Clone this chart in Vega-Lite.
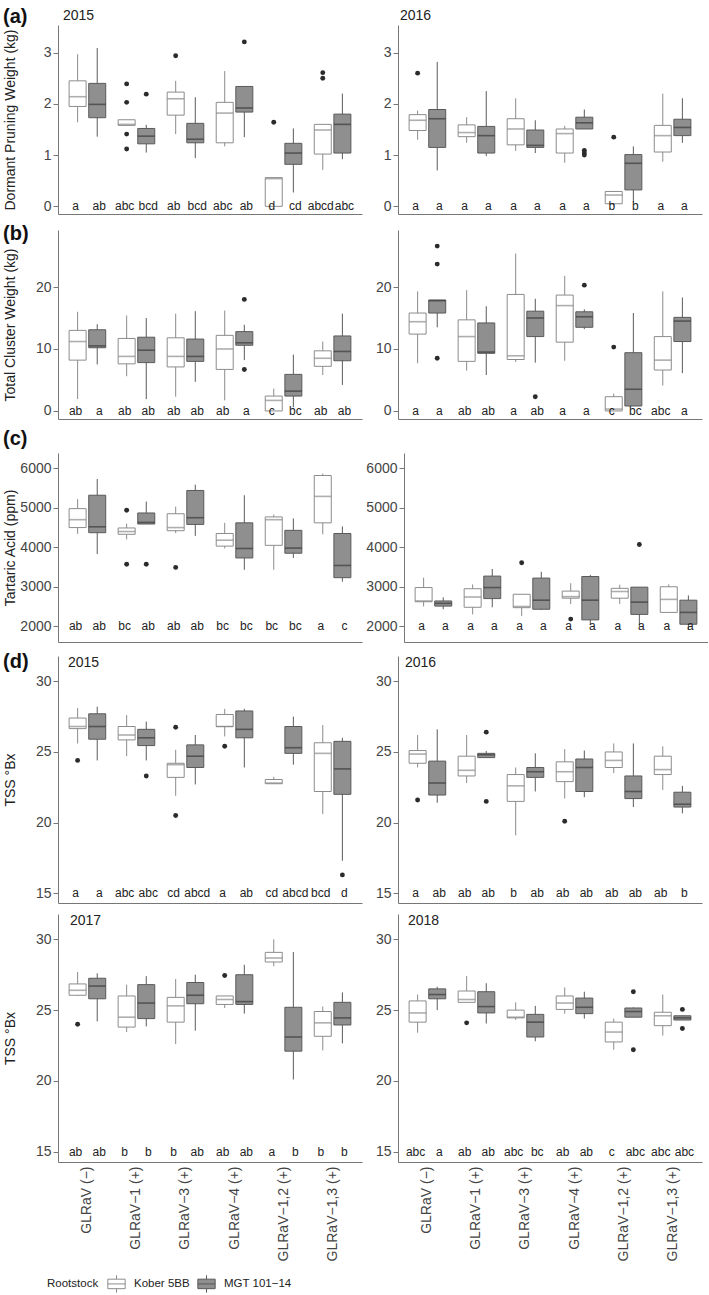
{
"$schema": "https://vega.github.io/schema/vega-lite/v6.json",
"padding": {"left": 3, "top": 7, "right": 0, "bottom": 0},
"background": "white",
"datasets": {
"box": [
{"p":"a15","g":"GLRaV (−)","r":"Kober 5BB","lo":1.64,"q1":1.95,"md":2.14,"q3":2.45,"hi":2.97,"l":"a"},
{"p":"a15","g":"GLRaV (−)","r":"MGT 101−14","lo":1.36,"q1":1.73,"md":1.99,"q3":2.40,"hi":3.09,"l":"ab"},
{"p":"a15","g":"GLRaV−1 (+)","r":"Kober 5BB","lo":1.58,"q1":1.58,"md":1.60,"q3":1.69,"hi":1.69,"l":"abc"},
{"p":"a15","g":"GLRaV−1 (+)","r":"MGT 101−14","lo":1.05,"q1":1.22,"md":1.37,"q3":1.52,"hi":1.59,"l":"bcd"},
{"p":"a15","g":"GLRaV−3 (+)","r":"Kober 5BB","lo":1.41,"q1":1.78,"md":2.10,"q3":2.23,"hi":2.45,"l":"ab"},
{"p":"a15","g":"GLRaV−3 (+)","r":"MGT 101−14","lo":0.94,"q1":1.24,"md":1.31,"q3":1.62,"hi":2.13,"l":"bcd"},
{"p":"a15","g":"GLRaV−4 (+)","r":"Kober 5BB","lo":1.17,"q1":1.24,"md":1.82,"q3":2.03,"hi":2.64,"l":"abc"},
{"p":"a15","g":"GLRaV−4 (+)","r":"MGT 101−14","lo":1.35,"q1":1.84,"md":1.92,"q3":2.34,"hi":2.34,"l":"ab"},
{"p":"a15","g":"GLRaV−1,2 (+)","r":"Kober 5BB","lo":0,"q1":0,"md":0.54,"q3":0.56,"hi":0.56,"l":"d"},
{"p":"a15","g":"GLRaV−1,2 (+)","r":"MGT 101−14","lo":0.27,"q1":0.82,"md":1.04,"q3":1.23,"hi":1.52,"l":"cd"},
{"p":"a15","g":"GLRaV−1,3 (+)","r":"Kober 5BB","lo":0.71,"q1":1.02,"md":1.49,"q3":1.60,"hi":1.60,"l":"abcd"},
{"p":"a15","g":"GLRaV−1,3 (+)","r":"MGT 101−14","lo":0.92,"q1":1.04,"md":1.60,"q3":1.80,"hi":2.20,"l":"abc"},
{"p":"a16","g":"GLRaV (−)","r":"Kober 5BB","lo":1.30,"q1":1.48,"md":1.68,"q3":1.79,"hi":1.87,"l":"a"},
{"p":"a16","g":"GLRaV (−)","r":"MGT 101−14","lo":0.70,"q1":1.15,"md":1.71,"q3":1.89,"hi":2.82,"l":"a"},
{"p":"a16","g":"GLRaV−1 (+)","r":"Kober 5BB","lo":1.24,"q1":1.36,"md":1.44,"q3":1.59,"hi":1.74,"l":"a"},
{"p":"a16","g":"GLRaV−1 (+)","r":"MGT 101−14","lo":0.98,"q1":1.04,"md":1.38,"q3":1.56,"hi":2.25,"l":"a"},
{"p":"a16","g":"GLRaV−3 (+)","r":"Kober 5BB","lo":1.08,"q1":1.20,"md":1.51,"q3":1.71,"hi":2.11,"l":"a"},
{"p":"a16","g":"GLRaV−3 (+)","r":"MGT 101−14","lo":1.04,"q1":1.15,"md":1.19,"q3":1.49,"hi":1.68,"l":"a"},
{"p":"a16","g":"GLRaV−4 (+)","r":"Kober 5BB","lo":0.85,"q1":1.04,"md":1.42,"q3":1.51,"hi":1.57,"l":"a"},
{"p":"a16","g":"GLRaV−4 (+)","r":"MGT 101−14","lo":1.51,"q1":1.51,"md":1.63,"q3":1.74,"hi":1.89,"l":"a"},
{"p":"a16","g":"GLRaV−1,2 (+)","r":"Kober 5BB","lo":0,"q1":0.05,"md":0.22,"q3":0.29,"hi":0.29,"l":"b"},
{"p":"a16","g":"GLRaV−1,2 (+)","r":"MGT 101−14","lo":0.09,"q1":0.32,"md":0.84,"q3":1.01,"hi":1.17,"l":"b"},
{"p":"a16","g":"GLRaV−1,3 (+)","r":"Kober 5BB","lo":0.87,"q1":1.06,"md":1.38,"q3":1.58,"hi":2.20,"l":"a"},
{"p":"a16","g":"GLRaV−1,3 (+)","r":"MGT 101−14","lo":1.24,"q1":1.38,"md":1.54,"q3":1.70,"hi":2.11,"l":"a"},
{"p":"b15","g":"GLRaV (−)","r":"Kober 5BB","lo":1.9,"q1":8.2,"md":11.2,"q3":13.0,"hi":16.0,"l":"ab"},
{"p":"b15","g":"GLRaV (−)","r":"MGT 101−14","lo":7.5,"q1":10.2,"md":10.5,"q3":13.1,"hi":14.0,"l":"a"},
{"p":"b15","g":"GLRaV−1 (+)","r":"Kober 5BB","lo":5.6,"q1":7.6,"md":8.8,"q3":11.7,"hi":15.4,"l":"ab"},
{"p":"b15","g":"GLRaV−1 (+)","r":"MGT 101−14","lo":1.9,"q1":7.8,"md":9.8,"q3":11.9,"hi":15.0,"l":"ab"},
{"p":"b15","g":"GLRaV−3 (+)","r":"Kober 5BB","lo":2.3,"q1":7.1,"md":8.8,"q3":11.8,"hi":15.7,"l":"ab"},
{"p":"b15","g":"GLRaV−3 (+)","r":"MGT 101−14","lo":4.7,"q1":8.0,"md":8.8,"q3":11.6,"hi":16.1,"l":"ab"},
{"p":"b15","g":"GLRaV−4 (+)","r":"Kober 5BB","lo":1.7,"q1":6.7,"md":10.0,"q3":12.2,"hi":16.2,"l":"ab"},
{"p":"b15","g":"GLRaV−4 (+)","r":"MGT 101−14","lo":8.2,"q1":10.6,"md":11.0,"q3":12.8,"hi":13.9,"l":"a"},
{"p":"b15","g":"GLRaV−1,2 (+)","r":"Kober 5BB","lo":0,"q1":0,"md":1.7,"q3":2.4,"hi":3.6,"l":"c"},
{"p":"b15","g":"GLRaV−1,2 (+)","r":"MGT 101−14","lo":0.6,"q1":2.4,"md":3.2,"q3":5.9,"hi":9.1,"l":"bc"},
{"p":"b15","g":"GLRaV−1,3 (+)","r":"Kober 5BB","lo":5.8,"q1":7.2,"md":8.5,"q3":9.7,"hi":11.2,"l":"ab"},
{"p":"b15","g":"GLRaV−1,3 (+)","r":"MGT 101−14","lo":4.2,"q1":8.1,"md":9.6,"q3":12.1,"hi":15.7,"l":"ab"},
{"p":"b16","g":"GLRaV (−)","r":"Kober 5BB","lo":7.7,"q1":12.4,"md":14.4,"q3":15.8,"hi":19.3,"l":"a"},
{"p":"b16","g":"GLRaV (−)","r":"MGT 101−14","lo":13.5,"q1":15.8,"md":17.8,"q3":17.9,"hi":17.9,"l":"a"},
{"p":"b16","g":"GLRaV−1 (+)","r":"Kober 5BB","lo":6.5,"q1":8.0,"md":12.0,"q3":14.7,"hi":19.5,"l":"ab"},
{"p":"b16","g":"GLRaV−1 (+)","r":"MGT 101−14","lo":5.8,"q1":9.3,"md":9.5,"q3":14.2,"hi":16.9,"l":"ab"},
{"p":"b16","g":"GLRaV−3 (+)","r":"Kober 5BB","lo":7.9,"q1":8.3,"md":8.9,"q3":18.8,"hi":25.4,"l":"a"},
{"p":"b16","g":"GLRaV−3 (+)","r":"MGT 101−14","lo":7.8,"q1":12.0,"md":15.0,"q3":16.1,"hi":18.1,"l":"ab"},
{"p":"b16","g":"GLRaV−4 (+)","r":"Kober 5BB","lo":8.1,"q1":11.1,"md":17.0,"q3":18.7,"hi":21.8,"l":"a"},
{"p":"b16","g":"GLRaV−4 (+)","r":"MGT 101−14","lo":13.2,"q1":13.5,"md":15.2,"q3":16.0,"hi":16.4,"l":"a"},
{"p":"b16","g":"GLRaV−1,2 (+)","r":"Kober 5BB","lo":0,"q1":0,"md":0.3,"q3":2.3,"hi":2.8,"l":"c"},
{"p":"b16","g":"GLRaV−1,2 (+)","r":"MGT 101−14","lo":0.8,"q1":0.8,"md":3.5,"q3":9.4,"hi":15.8,"l":"bc"},
{"p":"b16","g":"GLRaV−1,3 (+)","r":"Kober 5BB","lo":4.1,"q1":6.6,"md":8.2,"q3":12.0,"hi":19.3,"l":"abc"},
{"p":"b16","g":"GLRaV−1,3 (+)","r":"MGT 101−14","lo":6.1,"q1":11.2,"md":14.5,"q3":15.1,"hi":18.3,"l":"a"},
{"p":"c15","g":"GLRaV (−)","r":"Kober 5BB","lo":4340,"q1":4500,"md":4700,"q3":4980,"hi":5220,"l":"ab"},
{"p":"c15","g":"GLRaV (−)","r":"MGT 101−14","lo":3830,"q1":4370,"md":4520,"q3":5320,"hi":5730,"l":"ab"},
{"p":"c15","g":"GLRaV−1 (+)","r":"Kober 5BB","lo":4200,"q1":4330,"md":4400,"q3":4490,"hi":4600,"l":"bc"},
{"p":"c15","g":"GLRaV−1 (+)","r":"MGT 101−14","lo":4590,"q1":4590,"md":4630,"q3":4870,"hi":5160,"l":"ab"},
{"p":"c15","g":"GLRaV−3 (+)","r":"Kober 5BB","lo":4360,"q1":4420,"md":4500,"q3":4850,"hi":5030,"l":"ab"},
{"p":"c15","g":"GLRaV−3 (+)","r":"MGT 101−14","lo":4290,"q1":4580,"md":4750,"q3":5440,"hi":5590,"l":"ab"},
{"p":"c15","g":"GLRaV−4 (+)","r":"Kober 5BB","lo":3970,"q1":4030,"md":4180,"q3":4350,"hi":4620,"l":"bc"},
{"p":"c15","g":"GLRaV−4 (+)","r":"MGT 101−14","lo":3430,"q1":3730,"md":3970,"q3":4620,"hi":5320,"l":"bc"},
{"p":"c15","g":"GLRaV−1,2 (+)","r":"Kober 5BB","lo":3430,"q1":4050,"md":4700,"q3":4770,"hi":4830,"l":"bc"},
{"p":"c15","g":"GLRaV−1,2 (+)","r":"MGT 101−14","lo":3730,"q1":3850,"md":3980,"q3":4430,"hi":4730,"l":"bc"},
{"p":"c15","g":"GLRaV−1,3 (+)","r":"Kober 5BB","lo":4330,"q1":4620,"md":5290,"q3":5820,"hi":5870,"l":"a"},
{"p":"c15","g":"GLRaV−1,3 (+)","r":"MGT 101−14","lo":3130,"q1":3230,"md":3540,"q3":4350,"hi":4530,"l":"c"},
{"p":"c16","g":"GLRaV (−)","r":"Kober 5BB","lo":2500,"q1":2620,"md":2640,"q3":2980,"hi":3230,"l":"a"},
{"p":"c16","g":"GLRaV (−)","r":"MGT 101−14","lo":2430,"q1":2510,"md":2580,"q3":2640,"hi":2730,"l":"a"},
{"p":"c16","g":"GLRaV−1 (+)","r":"Kober 5BB","lo":2300,"q1":2480,"md":2740,"q3":2950,"hi":3060,"l":"a"},
{"p":"c16","g":"GLRaV−1 (+)","r":"MGT 101−14","lo":2480,"q1":2700,"md":2980,"q3":3270,"hi":3450,"l":"a"},
{"p":"c16","g":"GLRaV−3 (+)","r":"Kober 5BB","lo":2260,"q1":2470,"md":2500,"q3":2810,"hi":2810,"l":"a"},
{"p":"c16","g":"GLRaV−3 (+)","r":"MGT 101−14","lo":2410,"q1":2430,"md":2660,"q3":3220,"hi":3380,"l":"a"},
{"p":"c16","g":"GLRaV−4 (+)","r":"Kober 5BB","lo":2560,"q1":2710,"md":2750,"q3":2890,"hi":3090,"l":"a"},
{"p":"c16","g":"GLRaV−4 (+)","r":"MGT 101−14","lo":2030,"q1":2160,"md":2660,"q3":3260,"hi":3300,"l":"a"},
{"p":"c16","g":"GLRaV−1,2 (+)","r":"Kober 5BB","lo":2560,"q1":2710,"md":2880,"q3":2960,"hi":3050,"l":"a"},
{"p":"c16","g":"GLRaV−1,2 (+)","r":"MGT 101−14","lo":1990,"q1":2300,"md":2610,"q3":2990,"hi":2990,"l":"a"},
{"p":"c16","g":"GLRaV−1,3 (+)","r":"Kober 5BB","lo":2350,"q1":2350,"md":2680,"q3":3000,"hi":3060,"l":"a"},
{"p":"c16","g":"GLRaV−1,3 (+)","r":"MGT 101−14","lo":1910,"q1":2050,"md":2350,"q3":2660,"hi":2780,"l":"a"},
{"p":"d15","g":"GLRaV (−)","r":"Kober 5BB","lo":25.6,"q1":26.65,"md":26.8,"q3":27.4,"hi":28.1,"l":"a"},
{"p":"d15","g":"GLRaV (−)","r":"MGT 101−14","lo":24.4,"q1":25.9,"md":26.8,"q3":27.7,"hi":28.2,"l":"a"},
{"p":"d15","g":"GLRaV−1 (+)","r":"Kober 5BB","lo":24.7,"q1":25.85,"md":26.2,"q3":26.8,"hi":27.6,"l":"abc"},
{"p":"d15","g":"GLRaV−1 (+)","r":"MGT 101−14","lo":24.4,"q1":25.45,"md":26.0,"q3":26.6,"hi":27.15,"l":"abc"},
{"p":"d15","g":"GLRaV−3 (+)","r":"Kober 5BB","lo":21.9,"q1":23.2,"md":24.1,"q3":24.2,"hi":25.15,"l":"cd"},
{"p":"d15","g":"GLRaV−3 (+)","r":"MGT 101−14","lo":22.7,"q1":23.9,"md":24.7,"q3":25.5,"hi":26.2,"l":"abcd"},
{"p":"d15","g":"GLRaV−4 (+)","r":"Kober 5BB","lo":26.1,"q1":26.8,"md":26.8,"q3":27.65,"hi":28.05,"l":"a"},
{"p":"d15","g":"GLRaV−4 (+)","r":"MGT 101−14","lo":23.9,"q1":26.0,"md":26.6,"q3":27.9,"hi":28.05,"l":"ab"},
{"p":"d15","g":"GLRaV−1,2 (+)","r":"Kober 5BB","lo":22.75,"q1":22.75,"md":22.8,"q3":23.05,"hi":23.25,"l":"cd"},
{"p":"d15","g":"GLRaV−1,2 (+)","r":"MGT 101−14","lo":24.1,"q1":24.9,"md":25.3,"q3":26.8,"hi":27.5,"l":"abcd"},
{"p":"d15","g":"GLRaV−1,3 (+)","r":"Kober 5BB","lo":20.6,"q1":22.2,"md":24.9,"q3":25.65,"hi":26.9,"l":"bcd"},
{"p":"d15","g":"GLRaV−1,3 (+)","r":"MGT 101−14","lo":17.3,"q1":22.0,"md":23.8,"q3":25.75,"hi":26.0,"l":"d"},
{"p":"d16","g":"GLRaV (−)","r":"Kober 5BB","lo":23.9,"q1":24.2,"md":24.85,"q3":25.1,"hi":26.2,"l":"a"},
{"p":"d16","g":"GLRaV (−)","r":"MGT 101−14","lo":21.4,"q1":21.95,"md":22.8,"q3":24.35,"hi":26.6,"l":"ab"},
{"p":"d16","g":"GLRaV−1 (+)","r":"Kober 5BB","lo":22.8,"q1":23.3,"md":23.7,"q3":24.7,"hi":26.2,"l":"ab"},
{"p":"d16","g":"GLRaV−1 (+)","r":"MGT 101−14","lo":24.6,"q1":24.6,"md":24.8,"q3":24.9,"hi":25.07,"l":"ab"},
{"p":"d16","g":"GLRaV−3 (+)","r":"Kober 5BB","lo":19.1,"q1":21.5,"md":22.6,"q3":23.4,"hi":23.9,"l":"b"},
{"p":"d16","g":"GLRaV−3 (+)","r":"MGT 101−14","lo":22.2,"q1":23.2,"md":23.6,"q3":23.9,"hi":24.9,"l":"ab"},
{"p":"d16","g":"GLRaV−4 (+)","r":"Kober 5BB","lo":21.7,"q1":22.9,"md":23.6,"q3":24.3,"hi":25.2,"l":"ab"},
{"p":"d16","g":"GLRaV−4 (+)","r":"MGT 101−14","lo":21.8,"q1":22.2,"md":23.9,"q3":24.5,"hi":25.1,"l":"ab"},
{"p":"d16","g":"GLRaV−1,2 (+)","r":"Kober 5BB","lo":23.5,"q1":23.9,"md":24.4,"q3":25.0,"hi":25.6,"l":"ab"},
{"p":"d16","g":"GLRaV−1,2 (+)","r":"MGT 101−14","lo":21.1,"q1":21.7,"md":22.2,"q3":23.3,"hi":25.6,"l":"ab"},
{"p":"d16","g":"GLRaV−1,3 (+)","r":"Kober 5BB","lo":22.3,"q1":23.4,"md":23.75,"q3":24.7,"hi":25.4,"l":"ab"},
{"p":"d16","g":"GLRaV−1,3 (+)","r":"MGT 101−14","lo":20.65,"q1":21.1,"md":21.3,"q3":22.15,"hi":22.6,"l":"b"},
{"p":"d17","g":"GLRaV (−)","r":"Kober 5BB","lo":26.0,"q1":26.05,"md":26.4,"q3":26.85,"hi":27.7,"l":"ab"},
{"p":"d17","g":"GLRaV (−)","r":"MGT 101−14","lo":24.2,"q1":25.8,"md":26.7,"q3":27.25,"hi":27.6,"l":"ab"},
{"p":"d17","g":"GLRaV−1 (+)","r":"Kober 5BB","lo":23.45,"q1":23.8,"md":24.5,"q3":26.0,"hi":26.8,"l":"b"},
{"p":"d17","g":"GLRaV−1 (+)","r":"MGT 101−14","lo":23.85,"q1":24.4,"md":25.5,"q3":26.8,"hi":27.4,"l":"b"},
{"p":"d17","g":"GLRaV−3 (+)","r":"Kober 5BB","lo":22.6,"q1":24.15,"md":25.3,"q3":25.9,"hi":27.2,"l":"b"},
{"p":"d17","g":"GLRaV−3 (+)","r":"MGT 101−14","lo":23.55,"q1":25.45,"md":26.05,"q3":26.95,"hi":27.5,"l":"ab"},
{"p":"d17","g":"GLRaV−4 (+)","r":"Kober 5BB","lo":25.15,"q1":25.4,"md":25.75,"q3":26.0,"hi":26.0,"l":"ab"},
{"p":"d17","g":"GLRaV−4 (+)","r":"MGT 101−14","lo":24.75,"q1":25.4,"md":25.6,"q3":27.5,"hi":28.2,"l":"ab"},
{"p":"d17","g":"GLRaV−1,2 (+)","r":"Kober 5BB","lo":28.1,"q1":28.4,"md":28.68,"q3":29.08,"hi":30.0,"l":"a"},
{"p":"d17","g":"GLRaV−1,2 (+)","r":"MGT 101−14","lo":20.1,"q1":22.1,"md":23.1,"q3":25.2,"hi":29.1,"l":"b"},
{"p":"d17","g":"GLRaV−1,3 (+)","r":"Kober 5BB","lo":22.15,"q1":23.15,"md":24.1,"q3":24.9,"hi":25.25,"l":"b"},
{"p":"d17","g":"GLRaV−1,3 (+)","r":"MGT 101−14","lo":22.65,"q1":23.95,"md":24.45,"q3":25.55,"hi":26.25,"l":"b"},
{"p":"d18","g":"GLRaV (−)","r":"Kober 5BB","lo":23.4,"q1":24.15,"md":24.8,"q3":25.65,"hi":26.1,"l":"abc"},
{"p":"d18","g":"GLRaV (−)","r":"MGT 101−14","lo":25.0,"q1":25.8,"md":26.1,"q3":26.5,"hi":26.65,"l":"a"},
{"p":"d18","g":"GLRaV−1 (+)","r":"Kober 5BB","lo":25.55,"q1":25.55,"md":25.75,"q3":26.35,"hi":27.4,"l":"ab"},
{"p":"d18","g":"GLRaV−1 (+)","r":"MGT 101−14","lo":24.05,"q1":24.8,"md":25.25,"q3":26.3,"hi":26.9,"l":"ab"},
{"p":"d18","g":"GLRaV−3 (+)","r":"Kober 5BB","lo":24.3,"q1":24.45,"md":24.5,"q3":25.0,"hi":25.55,"l":"abc"},
{"p":"d18","g":"GLRaV−3 (+)","r":"MGT 101−14","lo":22.8,"q1":23.1,"md":24.15,"q3":24.7,"hi":25.3,"l":"bc"},
{"p":"d18","g":"GLRaV−4 (+)","r":"Kober 5BB","lo":24.75,"q1":25.05,"md":25.5,"q3":26.0,"hi":26.6,"l":"ab"},
{"p":"d18","g":"GLRaV−4 (+)","r":"MGT 101−14","lo":24.4,"q1":24.75,"md":25.2,"q3":25.85,"hi":26.3,"l":"ab"},
{"p":"d18","g":"GLRaV−1,2 (+)","r":"Kober 5BB","lo":22.2,"q1":22.75,"md":23.45,"q3":24.15,"hi":24.4,"l":"c"},
{"p":"d18","g":"GLRaV−1,2 (+)","r":"MGT 101−14","lo":24.5,"q1":24.5,"md":24.9,"q3":25.15,"hi":25.2,"l":"abc"},
{"p":"d18","g":"GLRaV−1,3 (+)","r":"Kober 5BB","lo":23.2,"q1":23.9,"md":24.6,"q3":24.85,"hi":26.1,"l":"abc"},
{"p":"d18","g":"GLRaV−1,3 (+)","r":"MGT 101−14","lo":24.3,"q1":24.3,"md":24.45,"q3":24.6,"hi":24.6,"l":"abc"}
],
"out": [
{"p":"a15","g":"GLRaV−1 (+)","r":"Kober 5BB","v":2.39},
{"p":"a15","g":"GLRaV−1 (+)","r":"Kober 5BB","v":2.03},
{"p":"a15","g":"GLRaV−1 (+)","r":"Kober 5BB","v":1.41},
{"p":"a15","g":"GLRaV−1 (+)","r":"Kober 5BB","v":1.12},
{"p":"a15","g":"GLRaV−1 (+)","r":"MGT 101−14","v":2.19},
{"p":"a15","g":"GLRaV−3 (+)","r":"Kober 5BB","v":2.94},
{"p":"a15","g":"GLRaV−4 (+)","r":"MGT 101−14","v":3.21},
{"p":"a15","g":"GLRaV−1,2 (+)","r":"Kober 5BB","v":1.64},
{"p":"a15","g":"GLRaV−1,3 (+)","r":"Kober 5BB","v":2.61},
{"p":"a15","g":"GLRaV−1,3 (+)","r":"Kober 5BB","v":2.50},
{"p":"a16","g":"GLRaV (−)","r":"Kober 5BB","v":2.60},
{"p":"a16","g":"GLRaV−4 (+)","r":"MGT 101−14","v":1.09},
{"p":"a16","g":"GLRaV−4 (+)","r":"MGT 101−14","v":1.04},
{"p":"a16","g":"GLRaV−4 (+)","r":"MGT 101−14","v":1.00},
{"p":"a16","g":"GLRaV−1,2 (+)","r":"Kober 5BB","v":1.35},
{"p":"b15","g":"GLRaV−4 (+)","r":"MGT 101−14","v":18.0},
{"p":"b15","g":"GLRaV−4 (+)","r":"MGT 101−14","v":6.7},
{"p":"b16","g":"GLRaV (−)","r":"MGT 101−14","v":26.6},
{"p":"b16","g":"GLRaV (−)","r":"MGT 101−14","v":23.7},
{"p":"b16","g":"GLRaV (−)","r":"MGT 101−14","v":8.5},
{"p":"b16","g":"GLRaV−3 (+)","r":"MGT 101−14","v":2.3},
{"p":"b16","g":"GLRaV−4 (+)","r":"MGT 101−14","v":20.3},
{"p":"b16","g":"GLRaV−1,2 (+)","r":"Kober 5BB","v":10.3},
{"p":"c15","g":"GLRaV−1 (+)","r":"Kober 5BB","v":4940},
{"p":"c15","g":"GLRaV−1 (+)","r":"Kober 5BB","v":3570},
{"p":"c15","g":"GLRaV−1 (+)","r":"MGT 101−14","v":3570},
{"p":"c15","g":"GLRaV−3 (+)","r":"Kober 5BB","v":3490},
{"p":"c16","g":"GLRaV−3 (+)","r":"Kober 5BB","v":3610},
{"p":"c16","g":"GLRaV−4 (+)","r":"Kober 5BB","v":2180},
{"p":"c16","g":"GLRaV−1,2 (+)","r":"MGT 101−14","v":4070},
{"p":"d15","g":"GLRaV (−)","r":"Kober 5BB","v":24.4},
{"p":"d15","g":"GLRaV−1 (+)","r":"MGT 101−14","v":23.3},
{"p":"d15","g":"GLRaV−3 (+)","r":"Kober 5BB","v":26.75},
{"p":"d15","g":"GLRaV−3 (+)","r":"Kober 5BB","v":20.5},
{"p":"d15","g":"GLRaV−4 (+)","r":"Kober 5BB","v":25.4},
{"p":"d15","g":"GLRaV−1,3 (+)","r":"MGT 101−14","v":16.3},
{"p":"d16","g":"GLRaV (−)","r":"Kober 5BB","v":21.6},
{"p":"d16","g":"GLRaV−1 (+)","r":"MGT 101−14","v":26.4},
{"p":"d16","g":"GLRaV−1 (+)","r":"MGT 101−14","v":21.5},
{"p":"d16","g":"GLRaV−4 (+)","r":"Kober 5BB","v":20.1},
{"p":"d17","g":"GLRaV (−)","r":"Kober 5BB","v":24.0},
{"p":"d17","g":"GLRaV−4 (+)","r":"Kober 5BB","v":27.45},
{"p":"d18","g":"GLRaV−1 (+)","r":"Kober 5BB","v":24.1},
{"p":"d18","g":"GLRaV−1,2 (+)","r":"MGT 101−14","v":26.3},
{"p":"d18","g":"GLRaV−1,2 (+)","r":"MGT 101−14","v":22.2},
{"p":"d18","g":"GLRaV−1,3 (+)","r":"MGT 101−14","v":25.05},
{"p":"d18","g":"GLRaV−1,3 (+)","r":"MGT 101−14","v":23.7}
]
},
"spacing": 10,
"vconcat": [
{"title": {"text": "(a)", "fontSize": 20, "fontWeight": "bold", "frame": "bounds", "anchor": "start", "offset": -18, "color": "#111"},
 "spacing": 3,
 "hconcat": [
 {"width": 304, "height": 189, "title": {"text": "2015", "offset": 2, "dx": 5},
  "data": {"name": "box"}, "transform": [{"filter": "datum.p == 'a15'"}],
  "encoding": {"x": {"field": "g", "type": "nominal", "title": null, "scale": {"domain": ["GLRaV (−)","GLRaV−1 (+)","GLRaV−3 (+)","GLRaV−4 (+)","GLRaV−1,2 (+)","GLRaV−1,3 (+)"]}},
   "xOffset": {"field": "r", "type": "nominal", "scale": {"domain": ["Kober 5BB","MGT 101−14"]}}},
  "layer": [
   {"mark": {"type": "rule"}, "encoding": {"y": {"field": "lo", "type": "quantitative", "scale": {"domain": [-0.15, 3.54], "nice": false, "zero": false}, "axis": {"values": [0,1,2,3], "title": "Dormant Pruning Weight (kg)"}}, "y2": {"field": "hi"}, "stroke": {"field": "r", "type": "nominal", "title": "Rootstock", "scale": {"domain": ["Kober 5BB","MGT 101−14"], "range": ["#8c8c8c","#5a5a5a"]}, "legend": {"orient": "none", "legendX": -11, "legendY": 1249, "direction": "horizontal", "titleOrient": "left"}}}},
   {"mark": {"type": "bar", "width": 17}, "encoding": {"y": {"field": "q1", "type": "quantitative"}, "y2": {"field": "q3"}, "fill": {"field": "r", "type": "nominal", "title": "Rootstock", "scale": {"domain": ["Kober 5BB","MGT 101−14"], "range": ["#ffffff","#8f8f8f"]}, "legend": {"orient": "none", "legendX": -11, "legendY": 1249, "direction": "horizontal", "titleOrient": "left"}}, "stroke": {"field": "r", "type": "nominal", "title": "Rootstock", "legend": {"orient": "none", "legendX": -11, "legendY": 1249, "direction": "horizontal", "titleOrient": "left"}}}},
   {"mark": {"type": "tick", "size": 17, "thickness": 1.6}, "encoding": {"y": {"field": "md", "type": "quantitative"}, "color": {"field": "r", "type": "nominal", "legend": null, "scale": {"domain": ["Kober 5BB","MGT 101−14"], "range": ["#8c8c8c","#3a3a3a"]}}}},
   {"data": {"name": "out"}, "transform": [{"filter": "datum.p == 'a15'"}], "mark": {"type": "circle", "size": 24, "color": "#2b2b2b", "opacity": 1}, "encoding": {"y": {"field": "v", "type": "quantitative"}}},
   {"transform": [{"filter": "datum.r == 'Kober 5BB'"}], "mark": {"type": "text", "baseline": "middle", "dx": -2}, "encoding": {"y": {"datum": 0}, "text": {"field": "l"}}},
   {"transform": [{"filter": "datum.r != 'Kober 5BB'"}], "mark": {"type": "text", "baseline": "middle", "dx": 2}, "encoding": {"y": {"datum": 0}, "text": {"field": "l"}}}
  ]},
 {"width": 304, "height": 189, "title": {"text": "2016", "offset": 2, "dx": 2},
  "data": {"name": "box"}, "transform": [{"filter": "datum.p == 'a16'"}],
  "encoding": {"x": {"field": "g", "type": "nominal", "title": null, "scale": {"domain": ["GLRaV (−)","GLRaV−1 (+)","GLRaV−3 (+)","GLRaV−4 (+)","GLRaV−1,2 (+)","GLRaV−1,3 (+)"]}},
   "xOffset": {"field": "r", "type": "nominal", "scale": {"domain": ["Kober 5BB","MGT 101−14"]}}},
  "layer": [
   {"mark": {"type": "rule"}, "encoding": {"y": {"field": "lo", "type": "quantitative", "scale": {"domain": [-0.15, 3.54], "nice": false, "zero": false}, "axis": {"values": [0,1,2,3], "title": null}}, "y2": {"field": "hi"}, "stroke": {"field": "r", "type": "nominal", "title": "Rootstock", "scale": {"domain": ["Kober 5BB","MGT 101−14"], "range": ["#8c8c8c","#5a5a5a"]}}}},
   {"mark": {"type": "bar", "width": 17}, "encoding": {"y": {"field": "q1", "type": "quantitative"}, "y2": {"field": "q3"}, "fill": {"field": "r", "type": "nominal", "title": "Rootstock", "scale": {"domain": ["Kober 5BB","MGT 101−14"], "range": ["#ffffff","#8f8f8f"]}}, "stroke": {"field": "r", "type": "nominal", "title": "Rootstock"}}},
   {"mark": {"type": "tick", "size": 17, "thickness": 1.6}, "encoding": {"y": {"field": "md", "type": "quantitative"}, "color": {"field": "r", "type": "nominal", "legend": null, "scale": {"domain": ["Kober 5BB","MGT 101−14"], "range": ["#8c8c8c","#3a3a3a"]}}}},
   {"data": {"name": "out"}, "transform": [{"filter": "datum.p == 'a16'"}], "mark": {"type": "circle", "size": 24, "color": "#2b2b2b", "opacity": 1}, "encoding": {"y": {"field": "v", "type": "quantitative"}}},
   {"transform": [{"filter": "datum.r == 'Kober 5BB'"}], "mark": {"type": "text", "baseline": "middle", "dx": -2}, "encoding": {"y": {"datum": 0}, "text": {"field": "l"}}},
   {"transform": [{"filter": "datum.r != 'Kober 5BB'"}], "mark": {"type": "text", "baseline": "middle", "dx": 2}, "encoding": {"y": {"datum": 0}, "text": {"field": "l"}}}
  ]}
 ]},
{"title": {"text": "(b)", "fontSize": 20, "fontWeight": "bold", "frame": "bounds", "anchor": "start", "offset": -14, "color": "#111"},
 "spacing": 3,
 "hconcat": [
 {"width": 304, "height": 189,
  "data": {"name": "box"}, "transform": [{"filter": "datum.p == 'b15'"}],
  "encoding": {"x": {"field": "g", "type": "nominal", "title": null, "scale": {"domain": ["GLRaV (−)","GLRaV−1 (+)","GLRaV−3 (+)","GLRaV−4 (+)","GLRaV−1,2 (+)","GLRaV−1,3 (+)"]}},
   "xOffset": {"field": "r", "type": "nominal", "scale": {"domain": ["Kober 5BB","MGT 101−14"]}}},
  "layer": [
   {"mark": {"type": "rule"}, "encoding": {"y": {"field": "lo", "type": "quantitative", "scale": {"domain": [-1.3, 29.2], "nice": false, "zero": false}, "axis": {"values": [0,10,20], "title": "Total Cluster Weight (kg)"}}, "y2": {"field": "hi"}, "stroke": {"field": "r", "type": "nominal", "title": "Rootstock", "scale": {"domain": ["Kober 5BB","MGT 101−14"], "range": ["#8c8c8c","#5a5a5a"]}}}},
   {"mark": {"type": "bar", "width": 17}, "encoding": {"y": {"field": "q1", "type": "quantitative"}, "y2": {"field": "q3"}, "fill": {"field": "r", "type": "nominal", "title": "Rootstock", "scale": {"domain": ["Kober 5BB","MGT 101−14"], "range": ["#ffffff","#8f8f8f"]}}, "stroke": {"field": "r", "type": "nominal", "title": "Rootstock"}}},
   {"mark": {"type": "tick", "size": 17, "thickness": 1.6}, "encoding": {"y": {"field": "md", "type": "quantitative"}, "color": {"field": "r", "type": "nominal", "legend": null, "scale": {"domain": ["Kober 5BB","MGT 101−14"], "range": ["#8c8c8c","#3a3a3a"]}}}},
   {"data": {"name": "out"}, "transform": [{"filter": "datum.p == 'b15'"}], "mark": {"type": "circle", "size": 24, "color": "#2b2b2b", "opacity": 1}, "encoding": {"y": {"field": "v", "type": "quantitative"}}},
   {"transform": [{"filter": "datum.r == 'Kober 5BB'"}], "mark": {"type": "text", "baseline": "middle", "dx": -2}, "encoding": {"y": {"datum": 0}, "text": {"field": "l"}}},
   {"transform": [{"filter": "datum.r != 'Kober 5BB'"}], "mark": {"type": "text", "baseline": "middle", "dx": 2}, "encoding": {"y": {"datum": 0}, "text": {"field": "l"}}}
  ]},
 {"width": 304, "height": 189,
  "data": {"name": "box"}, "transform": [{"filter": "datum.p == 'b16'"}],
  "encoding": {"x": {"field": "g", "type": "nominal", "title": null, "scale": {"domain": ["GLRaV (−)","GLRaV−1 (+)","GLRaV−3 (+)","GLRaV−4 (+)","GLRaV−1,2 (+)","GLRaV−1,3 (+)"]}},
   "xOffset": {"field": "r", "type": "nominal", "scale": {"domain": ["Kober 5BB","MGT 101−14"]}}},
  "layer": [
   {"mark": {"type": "rule"}, "encoding": {"y": {"field": "lo", "type": "quantitative", "scale": {"domain": [-1.3, 29.2], "nice": false, "zero": false}, "axis": {"values": [0,10,20], "title": null}}, "y2": {"field": "hi"}, "stroke": {"field": "r", "type": "nominal", "title": "Rootstock", "scale": {"domain": ["Kober 5BB","MGT 101−14"], "range": ["#8c8c8c","#5a5a5a"]}}}},
   {"mark": {"type": "bar", "width": 17}, "encoding": {"y": {"field": "q1", "type": "quantitative"}, "y2": {"field": "q3"}, "fill": {"field": "r", "type": "nominal", "title": "Rootstock", "scale": {"domain": ["Kober 5BB","MGT 101−14"], "range": ["#ffffff","#8f8f8f"]}}, "stroke": {"field": "r", "type": "nominal", "title": "Rootstock"}}},
   {"mark": {"type": "tick", "size": 17, "thickness": 1.6}, "encoding": {"y": {"field": "md", "type": "quantitative"}, "color": {"field": "r", "type": "nominal", "legend": null, "scale": {"domain": ["Kober 5BB","MGT 101−14"], "range": ["#8c8c8c","#3a3a3a"]}}}},
   {"data": {"name": "out"}, "transform": [{"filter": "datum.p == 'b16'"}], "mark": {"type": "circle", "size": 24, "color": "#2b2b2b", "opacity": 1}, "encoding": {"y": {"field": "v", "type": "quantitative"}}},
   {"transform": [{"filter": "datum.r == 'Kober 5BB'"}], "mark": {"type": "text", "baseline": "middle", "dx": -2}, "encoding": {"y": {"datum": 0}, "text": {"field": "l"}}},
   {"transform": [{"filter": "datum.r != 'Kober 5BB'"}], "mark": {"type": "text", "baseline": "middle", "dx": 2}, "encoding": {"y": {"datum": 0}, "text": {"field": "l"}}}
  ]}
 ]},
{"title": {"text": "(c)", "fontSize": 20, "fontWeight": "bold", "frame": "bounds", "anchor": "start", "offset": 4, "color": "#111"},
 "spacing": 3,
 "hconcat": [
 {"width": 304, "height": 189,
  "data": {"name": "box"}, "transform": [{"filter": "datum.p == 'c15'"}],
  "encoding": {"x": {"field": "g", "type": "nominal", "title": null, "scale": {"domain": ["GLRaV (−)","GLRaV−1 (+)","GLRaV−3 (+)","GLRaV−4 (+)","GLRaV−1,2 (+)","GLRaV−1,3 (+)"]}},
   "xOffset": {"field": "r", "type": "nominal", "scale": {"domain": ["Kober 5BB","MGT 101−14"]}}},
  "layer": [
   {"mark": {"type": "rule"}, "encoding": {"y": {"field": "lo", "type": "quantitative", "scale": {"domain": [1600, 6390], "nice": false, "zero": false}, "axis": {"values": [2000,3000,4000,5000,6000], "format": "d", "title": "Tartaric Acid (ppm)"}}, "y2": {"field": "hi"}, "stroke": {"field": "r", "type": "nominal", "title": "Rootstock", "scale": {"domain": ["Kober 5BB","MGT 101−14"], "range": ["#8c8c8c","#5a5a5a"]}}}},
   {"mark": {"type": "bar", "width": 17}, "encoding": {"y": {"field": "q1", "type": "quantitative"}, "y2": {"field": "q3"}, "fill": {"field": "r", "type": "nominal", "title": "Rootstock", "scale": {"domain": ["Kober 5BB","MGT 101−14"], "range": ["#ffffff","#8f8f8f"]}}, "stroke": {"field": "r", "type": "nominal", "title": "Rootstock"}}},
   {"mark": {"type": "tick", "size": 17, "thickness": 1.6}, "encoding": {"y": {"field": "md", "type": "quantitative"}, "color": {"field": "r", "type": "nominal", "legend": null, "scale": {"domain": ["Kober 5BB","MGT 101−14"], "range": ["#8c8c8c","#3a3a3a"]}}}},
   {"data": {"name": "out"}, "transform": [{"filter": "datum.p == 'c15'"}], "mark": {"type": "circle", "size": 24, "color": "#2b2b2b", "opacity": 1}, "encoding": {"y": {"field": "v", "type": "quantitative"}}},
   {"transform": [{"filter": "datum.r == 'Kober 5BB'"}], "mark": {"type": "text", "baseline": "middle", "dx": -2}, "encoding": {"y": {"datum": 2000}, "text": {"field": "l"}}},
   {"transform": [{"filter": "datum.r != 'Kober 5BB'"}], "mark": {"type": "text", "baseline": "middle", "dx": 2}, "encoding": {"y": {"datum": 2000}, "text": {"field": "l"}}}
  ]},
 {"width": 304, "height": 189,
  "data": {"name": "box"}, "transform": [{"filter": "datum.p == 'c16'"}],
  "encoding": {"x": {"field": "g", "type": "nominal", "title": null, "scale": {"domain": ["GLRaV (−)","GLRaV−1 (+)","GLRaV−3 (+)","GLRaV−4 (+)","GLRaV−1,2 (+)","GLRaV−1,3 (+)"]}},
   "xOffset": {"field": "r", "type": "nominal", "scale": {"domain": ["Kober 5BB","MGT 101−14"]}}},
  "layer": [
   {"mark": {"type": "rule"}, "encoding": {"y": {"field": "lo", "type": "quantitative", "scale": {"domain": [1600, 6390], "nice": false, "zero": false}, "axis": {"values": [2000,3000,4000,5000,6000], "format": "d", "title": null}}, "y2": {"field": "hi"}, "stroke": {"field": "r", "type": "nominal", "title": "Rootstock", "scale": {"domain": ["Kober 5BB","MGT 101−14"], "range": ["#8c8c8c","#5a5a5a"]}}}},
   {"mark": {"type": "bar", "width": 17}, "encoding": {"y": {"field": "q1", "type": "quantitative"}, "y2": {"field": "q3"}, "fill": {"field": "r", "type": "nominal", "title": "Rootstock", "scale": {"domain": ["Kober 5BB","MGT 101−14"], "range": ["#ffffff","#8f8f8f"]}}, "stroke": {"field": "r", "type": "nominal", "title": "Rootstock"}}},
   {"mark": {"type": "tick", "size": 17, "thickness": 1.6}, "encoding": {"y": {"field": "md", "type": "quantitative"}, "color": {"field": "r", "type": "nominal", "legend": null, "scale": {"domain": ["Kober 5BB","MGT 101−14"], "range": ["#8c8c8c","#3a3a3a"]}}}},
   {"data": {"name": "out"}, "transform": [{"filter": "datum.p == 'c16'"}], "mark": {"type": "circle", "size": 24, "color": "#2b2b2b", "opacity": 1}, "encoding": {"y": {"field": "v", "type": "quantitative"}}},
   {"transform": [{"filter": "datum.r == 'Kober 5BB'"}], "mark": {"type": "text", "baseline": "middle", "dx": -2}, "encoding": {"y": {"datum": 2000}, "text": {"field": "l"}}},
   {"transform": [{"filter": "datum.r != 'Kober 5BB'"}], "mark": {"type": "text", "baseline": "middle", "dx": 2}, "encoding": {"y": {"datum": 2000}, "text": {"field": "l"}}}
  ]}
 ]},
{"title": {"text": "(d)", "fontSize": 20, "fontWeight": "bold", "frame": "bounds", "anchor": "start", "offset": -16, "color": "#111"},
 "spacing": 11,
 "vconcat": [
 {"spacing": 3,
  "hconcat": [
  {"width": 304, "height": 247, "title": {"text": "2015", "offset": -14, "dx": 10},
   "data": {"name": "box"}, "transform": [{"filter": "datum.p == 'd15'"}],
   "encoding": {"x": {"field": "g", "type": "nominal", "title": null, "scale": {"domain": ["GLRaV (−)","GLRaV−1 (+)","GLRaV−3 (+)","GLRaV−4 (+)","GLRaV−1,2 (+)","GLRaV−1,3 (+)"]}},
    "xOffset": {"field": "r", "type": "nominal", "scale": {"domain": ["Kober 5BB","MGT 101−14"]}}},
   "layer": [
    {"mark": {"type": "rule"}, "encoding": {"y": {"field": "lo", "type": "quantitative", "scale": {"domain": [14.31, 31.79], "nice": false, "zero": false}, "axis": {"values": [15,20,25,30], "title": "TSS °Bx"}}, "y2": {"field": "hi"}, "stroke": {"field": "r", "type": "nominal", "title": "Rootstock", "scale": {"domain": ["Kober 5BB","MGT 101−14"], "range": ["#8c8c8c","#5a5a5a"]}}}},
    {"mark": {"type": "bar", "width": 17}, "encoding": {"y": {"field": "q1", "type": "quantitative"}, "y2": {"field": "q3"}, "fill": {"field": "r", "type": "nominal", "title": "Rootstock", "scale": {"domain": ["Kober 5BB","MGT 101−14"], "range": ["#ffffff","#8f8f8f"]}}, "stroke": {"field": "r", "type": "nominal", "title": "Rootstock"}}},
    {"mark": {"type": "tick", "size": 17, "thickness": 1.6}, "encoding": {"y": {"field": "md", "type": "quantitative"}, "color": {"field": "r", "type": "nominal", "legend": null, "scale": {"domain": ["Kober 5BB","MGT 101−14"], "range": ["#8c8c8c","#3a3a3a"]}}}},
    {"data": {"name": "out"}, "transform": [{"filter": "datum.p == 'd15'"}], "mark": {"type": "circle", "size": 24, "color": "#2b2b2b", "opacity": 1}, "encoding": {"y": {"field": "v", "type": "quantitative"}}},
    {"transform": [{"filter": "datum.r == 'Kober 5BB'"}], "mark": {"type": "text", "baseline": "middle", "dx": -2}, "encoding": {"y": {"datum": 15}, "text": {"field": "l"}}},
    {"transform": [{"filter": "datum.r != 'Kober 5BB'"}], "mark": {"type": "text", "baseline": "middle", "dx": 2}, "encoding": {"y": {"datum": 15}, "text": {"field": "l"}}}
   ]},
  {"width": 304, "height": 247, "title": {"text": "2016", "offset": -14, "dx": 7},
   "data": {"name": "box"}, "transform": [{"filter": "datum.p == 'd16'"}],
   "encoding": {"x": {"field": "g", "type": "nominal", "title": null, "scale": {"domain": ["GLRaV (−)","GLRaV−1 (+)","GLRaV−3 (+)","GLRaV−4 (+)","GLRaV−1,2 (+)","GLRaV−1,3 (+)"]}},
    "xOffset": {"field": "r", "type": "nominal", "scale": {"domain": ["Kober 5BB","MGT 101−14"]}}},
   "layer": [
    {"mark": {"type": "rule"}, "encoding": {"y": {"field": "lo", "type": "quantitative", "scale": {"domain": [14.31, 31.79], "nice": false, "zero": false}, "axis": {"values": [15,20,25,30], "title": null}}, "y2": {"field": "hi"}, "stroke": {"field": "r", "type": "nominal", "title": "Rootstock", "scale": {"domain": ["Kober 5BB","MGT 101−14"], "range": ["#8c8c8c","#5a5a5a"]}}}},
    {"mark": {"type": "bar", "width": 17}, "encoding": {"y": {"field": "q1", "type": "quantitative"}, "y2": {"field": "q3"}, "fill": {"field": "r", "type": "nominal", "title": "Rootstock", "scale": {"domain": ["Kober 5BB","MGT 101−14"], "range": ["#ffffff","#8f8f8f"]}}, "stroke": {"field": "r", "type": "nominal", "title": "Rootstock"}}},
    {"mark": {"type": "tick", "size": 17, "thickness": 1.6}, "encoding": {"y": {"field": "md", "type": "quantitative"}, "color": {"field": "r", "type": "nominal", "legend": null, "scale": {"domain": ["Kober 5BB","MGT 101−14"], "range": ["#8c8c8c","#3a3a3a"]}}}},
    {"data": {"name": "out"}, "transform": [{"filter": "datum.p == 'd16'"}], "mark": {"type": "circle", "size": 24, "color": "#2b2b2b", "opacity": 1}, "encoding": {"y": {"field": "v", "type": "quantitative"}}},
    {"transform": [{"filter": "datum.r == 'Kober 5BB'"}], "mark": {"type": "text", "baseline": "middle", "dx": -2}, "encoding": {"y": {"datum": 15}, "text": {"field": "l"}}},
    {"transform": [{"filter": "datum.r != 'Kober 5BB'"}], "mark": {"type": "text", "baseline": "middle", "dx": 2}, "encoding": {"y": {"datum": 15}, "text": {"field": "l"}}}
   ]}
  ]},
 {"spacing": 3,
  "hconcat": [
  {"width": 304, "height": 248, "title": {"text": "2017", "offset": -14, "dx": 12},
   "data": {"name": "box"}, "transform": [{"filter": "datum.p == 'd17'"}],
   "encoding": {"x": {"field": "g", "type": "nominal", "title": null, "scale": {"domain": ["GLRaV (−)","GLRaV−1 (+)","GLRaV−3 (+)","GLRaV−4 (+)","GLRaV−1,2 (+)","GLRaV−1,3 (+)"]}, "axis": {"labels": true, "labelAngle": -90, "labelAlign": "right", "labelBaseline": "middle", "labelPadding": 4, "labelFontSize": 14, "minExtent": 0, "maxExtent": 120}},
    "xOffset": {"field": "r", "type": "nominal", "scale": {"domain": ["Kober 5BB","MGT 101−14"]}}},
   "layer": [
    {"mark": {"type": "rule"}, "encoding": {"y": {"field": "lo", "type": "quantitative", "scale": {"domain": [14.27, 31.79], "nice": false, "zero": false}, "axis": {"values": [15,20,25,30], "title": "TSS °Bx"}}, "y2": {"field": "hi"}, "stroke": {"field": "r", "type": "nominal", "title": "Rootstock", "scale": {"domain": ["Kober 5BB","MGT 101−14"], "range": ["#8c8c8c","#5a5a5a"]}}}},
    {"mark": {"type": "bar", "width": 17}, "encoding": {"y": {"field": "q1", "type": "quantitative"}, "y2": {"field": "q3"}, "fill": {"field": "r", "type": "nominal", "title": "Rootstock", "scale": {"domain": ["Kober 5BB","MGT 101−14"], "range": ["#ffffff","#8f8f8f"]}}, "stroke": {"field": "r", "type": "nominal", "title": "Rootstock"}}},
    {"mark": {"type": "tick", "size": 17, "thickness": 1.6}, "encoding": {"y": {"field": "md", "type": "quantitative"}, "color": {"field": "r", "type": "nominal", "legend": null, "scale": {"domain": ["Kober 5BB","MGT 101−14"], "range": ["#8c8c8c","#3a3a3a"]}}}},
    {"data": {"name": "out"}, "transform": [{"filter": "datum.p == 'd17'"}], "mark": {"type": "circle", "size": 24, "color": "#2b2b2b", "opacity": 1}, "encoding": {"y": {"field": "v", "type": "quantitative"}}},
    {"transform": [{"filter": "datum.r == 'Kober 5BB'"}], "mark": {"type": "text", "baseline": "middle", "dx": -2}, "encoding": {"y": {"datum": 15}, "text": {"field": "l"}}},
    {"transform": [{"filter": "datum.r != 'Kober 5BB'"}], "mark": {"type": "text", "baseline": "middle", "dx": 2}, "encoding": {"y": {"datum": 15}, "text": {"field": "l"}}}
   ]},
  {"width": 304, "height": 248, "title": {"text": "2018", "offset": -14, "dx": 10},
   "data": {"name": "box"}, "transform": [{"filter": "datum.p == 'd18'"}],
   "encoding": {"x": {"field": "g", "type": "nominal", "title": null, "scale": {"domain": ["GLRaV (−)","GLRaV−1 (+)","GLRaV−3 (+)","GLRaV−4 (+)","GLRaV−1,2 (+)","GLRaV−1,3 (+)"]}, "axis": {"labels": true, "labelAngle": -90, "labelAlign": "right", "labelBaseline": "middle", "labelPadding": 4, "labelFontSize": 14, "minExtent": 0, "maxExtent": 120}},
    "xOffset": {"field": "r", "type": "nominal", "scale": {"domain": ["Kober 5BB","MGT 101−14"]}}},
   "layer": [
    {"mark": {"type": "rule"}, "encoding": {"y": {"field": "lo", "type": "quantitative", "scale": {"domain": [14.27, 31.79], "nice": false, "zero": false}, "axis": {"values": [15,20,25,30], "title": null}}, "y2": {"field": "hi"}, "stroke": {"field": "r", "type": "nominal", "title": "Rootstock", "scale": {"domain": ["Kober 5BB","MGT 101−14"], "range": ["#8c8c8c","#5a5a5a"]}}}},
    {"mark": {"type": "bar", "width": 17}, "encoding": {"y": {"field": "q1", "type": "quantitative"}, "y2": {"field": "q3"}, "fill": {"field": "r", "type": "nominal", "title": "Rootstock", "scale": {"domain": ["Kober 5BB","MGT 101−14"], "range": ["#ffffff","#8f8f8f"]}}, "stroke": {"field": "r", "type": "nominal", "title": "Rootstock"}}},
    {"mark": {"type": "tick", "size": 17, "thickness": 1.6}, "encoding": {"y": {"field": "md", "type": "quantitative"}, "color": {"field": "r", "type": "nominal", "legend": null, "scale": {"domain": ["Kober 5BB","MGT 101−14"], "range": ["#8c8c8c","#3a3a3a"]}}}},
    {"data": {"name": "out"}, "transform": [{"filter": "datum.p == 'd18'"}], "mark": {"type": "circle", "size": 24, "color": "#2b2b2b", "opacity": 1}, "encoding": {"y": {"field": "v", "type": "quantitative"}}},
    {"transform": [{"filter": "datum.r == 'Kober 5BB'"}], "mark": {"type": "text", "baseline": "middle", "dx": -2}, "encoding": {"y": {"datum": 15}, "text": {"field": "l"}}},
    {"transform": [{"filter": "datum.r != 'Kober 5BB'"}], "mark": {"type": "text", "baseline": "middle", "dx": 2}, "encoding": {"y": {"datum": 15}, "text": {"field": "l"}}}
   ]}
  ]}
 ]}
],
"config": {
 "view": {"stroke": null},
 "font": "Liberation Sans",
 "scale": {"bandPaddingInner": 0.25, "bandPaddingOuter": 0.2, "offsetBandPaddingInner": 0, "offsetBandPaddingOuter": 0},
 "title": {"anchor": "start", "frame": "group", "font": "Liberation Sans", "fontSize": 14, "fontWeight": "normal", "color": "#222"},
 "axis": {"grid": false, "domainColor": "#777777", "tickColor": "#777777", "labelColor": "#444444", "labelFont": "Liberation Sans", "labelFontSize": 14, "titleFont": "Liberation Sans", "titleFontSize": 14, "titleFontWeight": "normal", "titleColor": "#222222", "domainWidth": 1, "tickWidth": 1},
 "axisY": {"tickSize": 5, "labelPadding": 2, "minExtent": 33, "maxExtent": 33, "titlePadding": 8},
 "axisX": {"labels": false, "ticks": false, "domain": true, "minExtent": 0, "maxExtent": 0},
 "bar": {"strokeWidth": 1},
 "rule": {"strokeWidth": 1},
 "text": {"font": "Liberation Sans", "fontSize": 12, "color": "#222222"},
 "legend": {"titleFont": "Liberation Sans", "titleFontSize": 11.5, "titleFontWeight": "normal", "titleColor": "#222222", "labelFont": "Liberation Sans", "labelFontSize": 11.5, "labelColor": "#222222", "symbolType": "M-1,-0.55H1V0.55H-1Z M-1,0H1 M0,-0.55V-1 M0,0.55V1", "symbolSize": 300, "symbolStrokeWidth": 1, "columnPadding": 5, "labelOffset": 8, "titlePadding": 8}
}
}
